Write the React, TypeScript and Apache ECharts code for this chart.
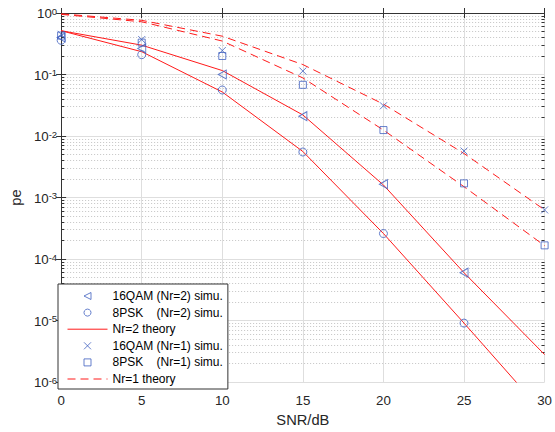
import React, { useEffect, useRef } from "react";
import * as echarts from "echarts";

// ---- data ----
const snr = [0, 5, 10, 15, 20, 25, 30];
const sim16qamNr2 = [0.4, 0.265, 0.1, 0.021, 0.00165, 6.0e-5];
const sim8pskNr2 = [0.36, 0.21, 0.056, 0.0055, 0.00026, 9.1e-6];
const sim16qamNr1 = [0.45, 0.37, 0.245, 0.114, 0.031, 0.0057, 6.3e-4];
const sim8pskNr1 = [0.43, 0.33, 0.2, 0.068, 0.0125, 0.0017, 1.67e-4];
const th16qamNr2 = [0.515, 0.3, 0.116, 0.022, 0.0016, 6.0e-5, 2.8e-6];
const th8pskNr2 = [0.515, 0.235, 0.052, 0.0056, 0.00026, 9.1e-6, 3.0e-7];
const th16qamNr1 = [0.97, 0.76, 0.42, 0.145, 0.033, 0.0052, 6.3e-4];
const th8pskNr1 = [0.95, 0.72, 0.35, 0.088, 0.0125, 0.0015, 1.65e-4];

const xMin = 0;
const xMax = 30;
const xInterval = 5;
const yDecadeMin = -6;
const yDecadeMax = 0;

const NB = "\u00a0";
const nameTri = "16QAM (Nr=2) simu.";
const nameCirc = "8PSK" + NB + NB + NB + " (Nr=2) simu.";
const nameTh2 = "Nr=2 theory";
const nameX = "16QAM (Nr=1) simu.";
const nameSq = "8PSK" + NB + NB + NB + " (Nr=1) simu.";
const nameTh1 = "Nr=1 theory";
const legendNames = [nameTri, nameCirc, nameTh2, nameX, nameSq, nameTh1];

// minor tick positions (log10 space) at 2..9 x 10^n
const minorLogs: number[] = [];
for (let n = yDecadeMin; n < yDecadeMax; n++) {
  for (let k = 2; k <= 9; k++) minorLogs.push(n + Math.log10(k));
}

const pts = (ys: number[]) => ys.map((v, i) => [snr[i], v]);

const FONT = "'Liberation Sans', Arial, Helvetica, sans-serif";
const AXIS = "#333333";
const TXT = "#262626";
const BLUE = "#3f5fbf";
const RED = "#ff1a1a";

export default function App() {
  const ref = useRef<HTMLDivElement>(null);
  useEffect(() => {
    if (!ref.current) return;
    const chart = echarts.init(ref.current, null, { renderer: "svg" });

    const markerStyle = {
      color: "transparent",
      borderColor: BLUE,
      borderWidth: 1,
    };
    const scatter = (name: string, data: number[], symbol: string, size: any) => ({
      type: "scatter",
      name,
      data: pts(data),
      symbol,
      symbolSize: size,
      symbolKeepAspect: true,
      itemStyle: markerStyle,
      z: 5,
      silent: true,
    });
    const line = (name: string, data: number[], dashed: boolean) => ({
      type: "line",
      name,
      data: pts(data),
      symbol: "none",
      showSymbol: false,
      itemStyle: { color: "transparent", borderWidth: 0 },
      lineStyle: { color: RED, width: 1, type: dashed ? [8, 5] : "solid" },
      z: 3,
      silent: true,
    });

    const option: any = {
      animation: false,
      textStyle: { fontFamily: FONT },
      grid: { left: 59, top: 13, width: 490, height: 375, containLabel: false },
      legend: {
        orient: "vertical",
        left: 58,
        top: 284,
        padding: [6, 5, 4, 9],
        itemGap: 4.6,
        itemWidth: 40,
        itemHeight: 7,
        backgroundColor: "#ffffff",
        borderColor: AXIS,
        borderWidth: 1,
        borderRadius: 0,
        itemStyle: { borderWidth: 1 },
        lineStyle: { width: 1 },
        textStyle: { fontSize: 12, color: "#000", fontFamily: FONT },
        data: legendNames,
        selectedMode: false,
      },
      xAxis: [
        {
          type: "value",
          min: xMin,
          max: xMax,
          interval: xInterval,
          position: "bottom",
          name: "SNR/dB",
          nameLocation: "middle",
          nameGap: 15,
          nameTextStyle: { fontSize: 14.7, color: TXT, fontFamily: FONT },
          axisLine: { show: true, lineStyle: { color: AXIS, width: 1 } },
          axisTick: { show: true, inside: true, length: 5, lineStyle: { color: AXIS } },
          axisLabel: { fontSize: 13.3, color: TXT, margin: 12, fontFamily: FONT },
          splitLine: { show: true, lineStyle: { color: "#dedede", width: 1 } },
        },
        {
          type: "value",
          min: xMin,
          max: xMax,
          interval: xInterval,
          position: "top",
          axisLine: { show: true, lineStyle: { color: AXIS, width: 1 } },
          axisTick: { show: true, inside: true, length: 5, lineStyle: { color: AXIS } },
          axisLabel: { show: false },
          splitLine: { show: false },
        },
      ],
      yAxis: [
        {
          type: "log",
          logBase: 10,
          min: Math.pow(10, yDecadeMin),
          max: Math.pow(10, yDecadeMax),
          position: "left",
          name: "pe",
          nameLocation: "middle",
          nameGap: 34,
          nameTextStyle: { fontSize: 14.7, color: TXT, fontFamily: FONT },
          axisLine: { show: true, lineStyle: { color: AXIS, width: 1 } },
          axisTick: { show: true, inside: true, length: 5, lineStyle: { color: AXIS } },
          axisLabel: {
            margin: 4,
            formatter: (v: number) => "{b|10}{s|" + Math.round(Math.log10(v)) + "}",
            rich: {
              b: { fontSize: 13.3, lineHeight: 14, verticalAlign: "bottom", color: TXT, fontFamily: FONT },
              s: { fontSize: 9.5, lineHeight: 10, padding: [0, 0, 6, 0], verticalAlign: "top", color: TXT, fontFamily: FONT },
            },
          },
          splitLine: { show: true, lineStyle: { color: "#dedede", width: 1 } },
        },
        {
          type: "log",
          logBase: 10,
          min: Math.pow(10, yDecadeMin),
          max: Math.pow(10, yDecadeMax),
          position: "right",
          axisLine: { show: true, lineStyle: { color: AXIS, width: 1 } },
          axisTick: { show: true, inside: true, length: 5, lineStyle: { color: AXIS } },
          axisLabel: { show: false },
          splitLine: { show: false },
        },
        {
          type: "value",
          min: yDecadeMin,
          max: yDecadeMax,
          position: "left",
          axisLine: { show: false },
          axisTick: { show: true, inside: true, length: 3, customValues: minorLogs, lineStyle: { color: AXIS } },
          axisLabel: { show: false },
          splitLine: { show: true, lineStyle: { color: "#c4c4c4", width: 1, type: [1, 2] } },
        },
        {
          type: "value",
          min: yDecadeMin,
          max: yDecadeMax,
          position: "right",
          axisLine: { show: false },
          axisTick: { show: true, inside: true, length: 3, customValues: minorLogs, lineStyle: { color: AXIS } },
          axisLabel: { show: false },
          splitLine: { show: false },
        },
      ],
      series: [
        line(nameTh2, th16qamNr2, false),
        line(nameTh2, th8pskNr2, false),
        line(nameTh1, th16qamNr1, true),
        line(nameTh1, th8pskNr1, true),
        scatter(nameTri, sim16qamNr2, "path://M0,5L10,0L10,10Z", [8, 9]),
        scatter(nameCirc, sim8pskNr2, "circle", 8),
        scatter(nameX, sim16qamNr1, "path://M0,0L10,10M10,0L0,10", 7),
        scatter(nameSq, sim8pskNr1, "path://M0,0L10,0L10,10L0,10Z", 7),
      ],
    };
    chart.setOption(option);
    return () => chart.dispose();
  }, []);
  return (
    <div
      ref={ref}
      style={{ position: "fixed", left: 0, top: 0, width: 555, height: 432, background: "#fff" }}
    />
  );
}
